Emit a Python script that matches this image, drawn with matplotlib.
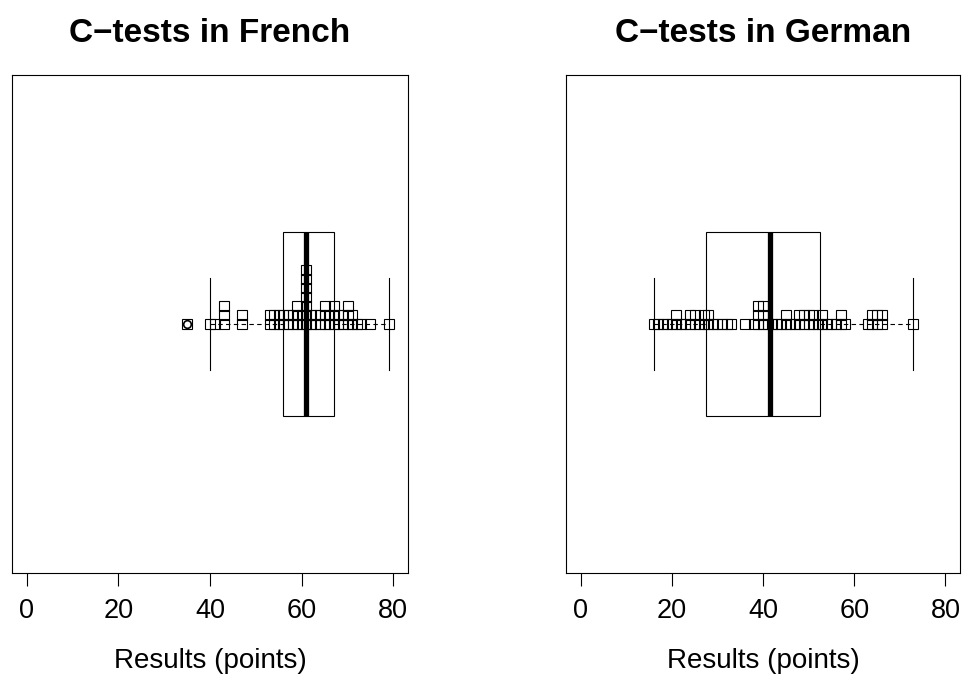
import numpy as np
import matplotlib
matplotlib.use("Agg")
import matplotlib.pyplot as plt
from matplotlib.patches import Rectangle

plt.rcParams['font.family'] = ['Liberation Sans', 'DejaVu Sans']

# ---- data: value -> number of students with that score ----
french_values = [35, 40, 41, 43, 47, 53, 54, 55, 56, 57, 58, 59, 60, 61,
                 62, 63, 64, 65, 66, 67, 68, 69, 70, 71, 72, 73, 75, 79]
french_counts = [1, 1, 1, 3, 2, 2, 2, 2, 2, 2, 2, 3, 2, 7,
                 2, 2, 2, 3, 2, 3, 2, 2, 3, 2, 1, 1, 1, 1]

german_values = [16, 17, 18, 19, 20, 21, 22, 23, 24, 25, 26, 27, 28, 29, 30,
                 31, 32, 33, 36, 38, 39, 40, 41, 42, 43, 44, 45, 46, 47, 48,
                 49, 50, 51, 52, 53, 54, 55, 56, 57, 58, 63, 64, 65, 66, 73]
german_counts = [1, 1, 1, 1, 1, 2, 1, 1, 2, 2, 1, 2, 2, 1, 1,
                 1, 1, 1, 1, 1, 3, 3, 1, 1, 1, 1, 2, 1, 1, 2,
                 2, 2, 2, 1, 2, 1, 1, 1, 2, 1, 1, 2, 2, 2, 1]

titles = ["C\u2212tests in French", "C\u2212tests in German"]
xlabel = "Results (points)"
xticks = [0, 20, 40, 60, 80]


def fivenum(x):
    x = np.sort(np.asarray(x, dtype=float))
    n = len(x)
    n4 = np.floor((n + 3) / 2) / 2
    d = np.array([1, n4, (n + 1) / 2, n + 1 - n4, n])
    return 0.5 * (x[np.floor(d).astype(int) - 1] + x[np.ceil(d).astype(int) - 1])


def draw(ax, values, counts, title):
    data = np.repeat(values, counts)
    mn, q1, med, q3, mx = fivenum(data)
    iqr = q3 - q1
    lo_lim, hi_lim = q1 - 1.5 * iqr, q3 + 1.5 * iqr
    inside = data[(data >= lo_lim) & (data <= hi_lim)]
    wlo, whi = inside.min(), inside.max()
    outl = data[(data < lo_lim) | (data > hi_lim)]

    yc = 1.0
    bh = 0.3675
    sh = 0.185
    lw = 0.8
    # box
    ax.add_patch(Rectangle((q1, yc - bh), q3 - q1, 2 * bh, fill=False,
                           edgecolor='black', lw=lw, zorder=2))
    # whiskers
    ax.plot([wlo, q1], [yc, yc], ls=(0, (4, 3)), color='black', lw=lw, zorder=2)
    ax.plot([q3, whi], [yc, yc], ls=(0, (4, 3)), color='black', lw=lw, zorder=2)
    # staples
    ax.plot([wlo, wlo], [yc - sh, yc + sh], color='black', lw=lw, zorder=2)
    ax.plot([whi, whi], [yc - sh, yc + sh], color='black', lw=lw, zorder=2)
    # median
    ax.plot([med, med], [yc - bh, yc + bh], color='black', lw=3.8,
            solid_capstyle='butt', zorder=4)
    # outliers
    if len(outl):
        ax.plot(outl, np.full(len(outl), yc), 'o', ms=5.5, mfc='none',
                mec='black', mew=1.2, zorder=3)
    # stacked strip chart
    step = 0.036
    xs, ys = [], []
    for v, c in zip(values, counts):
        for k in range(c):
            xs.append(v)
            ys.append(yc + k * step)
    ax.plot(xs, ys, 's', ms=6.6, mfc='none', mec='black', mew=0.8, zorder=3)

    ax.set_xlim(-3.2, 83.2)
    ax.set_ylim(0, 2)
    ax.set_yticks([])
    ax.set_xticks(xticks)
    ax.set_xticklabels([str(t) for t in xticks], fontsize=19.5)
    ax.tick_params(axis='x', length=9, width=0.8, pad=9)
    for s in ax.spines.values():
        s.set_linewidth(0.8)
    ax.set_xlabel(xlabel, fontsize=20, labelpad=17)
    ax.set_title(title, fontsize=24, fontweight='bold', pad=24)


fig = plt.figure(figsize=(9.66, 6.74), dpi=100)
ax1 = fig.add_axes([12 / 966, 1 - 573 / 674, 396 / 966, 498 / 674])
ax2 = fig.add_axes([566 / 966, 1 - 573 / 674, 394 / 966, 498 / 674])
draw(ax1, french_values, french_counts, titles[0])
draw(ax2, german_values, german_counts, titles[1])
fig.savefig("out.png", dpi=100)
